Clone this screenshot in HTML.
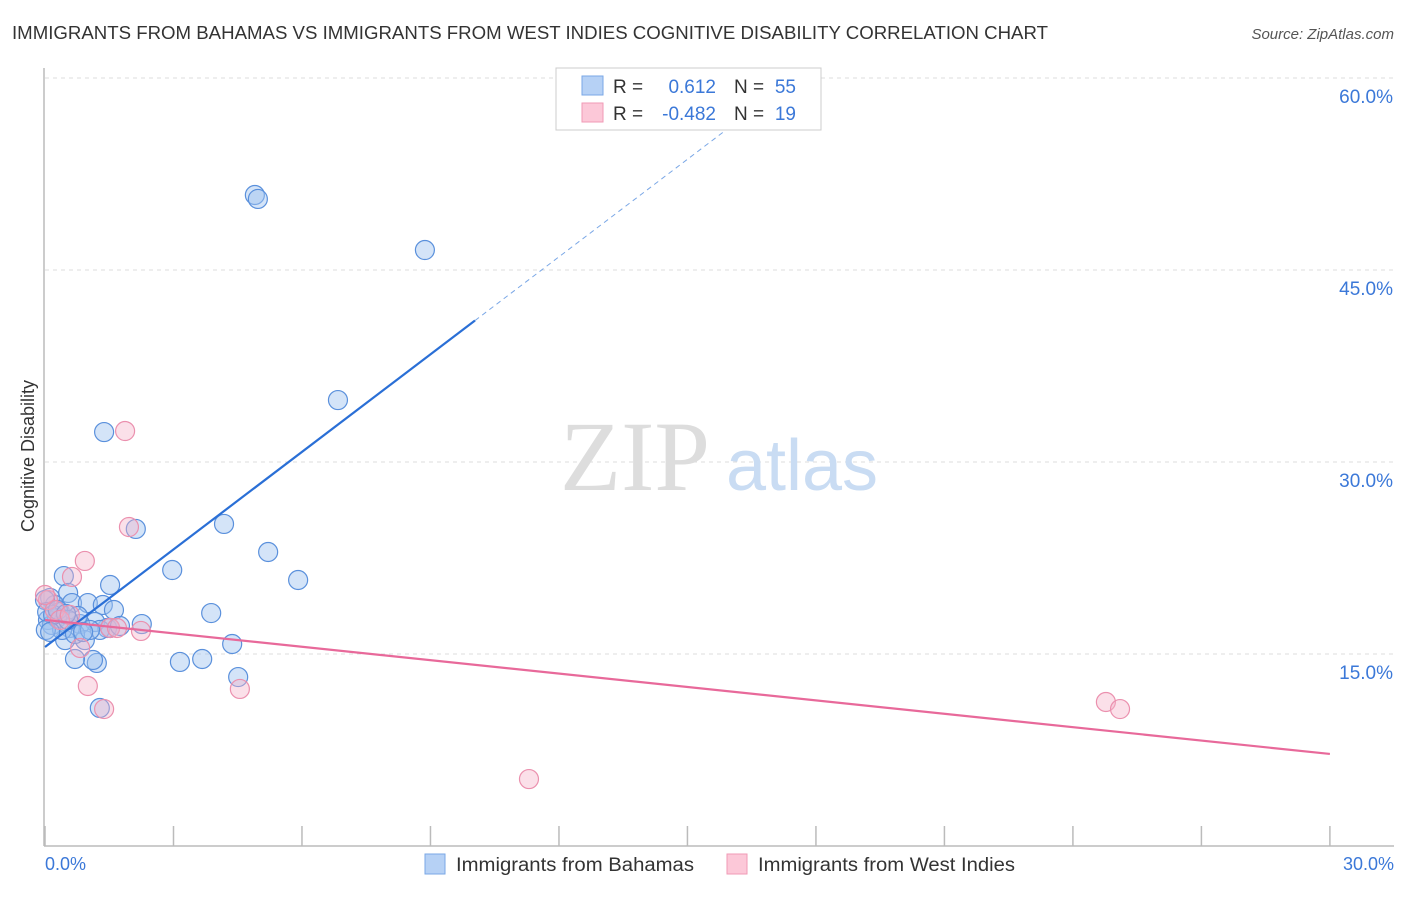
<!DOCTYPE html>
<html><head><meta charset="utf-8"><style>
body{margin:0;background:#fff;font-family:"Liberation Sans",sans-serif;}
</style></head><body>
<svg width="1406" height="892" font-family="Liberation Sans, sans-serif">
<text x="12" y="39" font-size="18" fill="#333" textLength="1036" lengthAdjust="spacingAndGlyphs">IMMIGRANTS FROM BAHAMAS VS IMMIGRANTS FROM WEST INDIES COGNITIVE DISABILITY CORRELATION CHART</text>
<text x="1394" y="39" font-size="15" fill="#555" text-anchor="end" font-style="italic">Source: ZipAtlas.com</text>
<g id="grid"></g>
<text x="635" y="490" font-size="100" fill="#ddd" style="font-family:'Liberation Serif',serif" text-anchor="middle">ZIP</text>
<text x="802" y="490" font-size="72" fill="#c9dcf3" text-anchor="middle">atlas</text>
<line x1="44" y1="68" x2="44" y2="846" stroke="#bbb" stroke-width="1.5"/>
<line x1="44" y1="846" x2="1394" y2="846" stroke="#bbb" stroke-width="1.5"/>
<g id="ticks"></g>
<text x="34" y="456" font-size="18" fill="#333" text-anchor="middle" transform="rotate(-90 34 456)">Cognitive Disability</text>
<text x="45" y="870" font-size="18" fill="#3b78d8">0.0%</text>
<text x="1394" y="870" font-size="18" fill="#3b78d8" text-anchor="end">30.0%</text>
<g id="pts"></g>
<g id="lines"></g>
<g>
<rect x="556" y="68" width="265" height="62" fill="#fff" stroke="#ccc"/>
<rect x="582" y="76" width="21" height="19" fill="#b6d1f5" stroke="#7aa7e6"/>
<rect x="582" y="103" width="21" height="19" fill="#fcc8d8" stroke="#f09ab6"/>
<text x="613" y="93" font-size="19" fill="#333">R =</text>
<text x="716" y="93" font-size="19" fill="#3b78d8" text-anchor="end">0.612</text>
<text x="734" y="93" font-size="19" fill="#333">N =</text>
<text x="796" y="93" font-size="19" fill="#3b78d8" text-anchor="end">55</text>
<text x="613" y="120" font-size="19" fill="#333">R =</text>
<text x="716" y="120" font-size="19" fill="#3b78d8" text-anchor="end">-0.482</text>
<text x="734" y="120" font-size="19" fill="#333">N =</text>
<text x="796" y="120" font-size="19" fill="#3b78d8" text-anchor="end">19</text>
</g>
<g>
<rect x="425" y="854" width="20" height="20" fill="#b6d1f5" stroke="#7aa7e6"/>
<text x="456" y="871" font-size="19" fill="#333" textLength="238" lengthAdjust="spacingAndGlyphs">Immigrants from Bahamas</text>
<rect x="727" y="854" width="20" height="20" fill="#fcc8d8" stroke="#f09ab6"/>
<text x="758" y="871" font-size="19" fill="#333" textLength="257" lengthAdjust="spacingAndGlyphs">Immigrants from West Indies</text>
</g>
</svg>
<script>
const yTicks=[15,30,45,60];
const yTickLabels=["15.0%","30.0%","45.0%","60.0%"];
const xTicks=[0,3,6,9,12,15,18,21,24,27,30];
const blueX=[4.90,4.97,8.87,6.84,1.38,2.12,4.18,5.21,2.97,5.91,1.52,0.44,0.54,3.88,4.37,3.15,3.67,4.51,1.28,1.21,1.12,0.70,0.12,0.23,0.35,0.63,1.00,1.35,1.61,2.26,1.45,1.17,0.82,0.58,0.47,0.93,0.07,0.16,0.28,0.40,0.70,1.28,0.77,1.05,0.0,0.05,0.19,0.30,0.54,0.89,1.52,1.75,0.02,0.12,0.49];
const blueY=[50.86,50.55,46.56,34.84,32.34,24.77,25.16,22.97,21.56,20.78,20.39,21.09,19.77,18.20,15.78,14.38,14.61,13.20,10.78,14.30,14.53,14.61,19.38,18.83,18.28,18.98,18.98,18.83,18.44,17.34,17.03,17.50,17.34,17.03,16.09,16.09,17.66,17.27,17.81,16.88,16.56,16.88,17.97,16.88,19.22,18.28,18.05,18.44,17.66,16.72,17.03,17.19,16.88,16.72,18.13];
const pinkX=[1.87,1.96,0.93,0.63,2.24,1.52,1.68,0.82,1.00,1.38,4.55,24.77,25.10,11.30,0.07,0.23,0.35,0.58,0];
const pinkY=[32.42,24.92,22.27,21.02,16.80,17.03,17.03,15.47,12.50,10.70,12.27,11.25,10.70,5.23,19.22,18.44,17.66,18.05,19.61];
const blueTrend=[15.55,2.54];
const pinkTrend=[17.66,-0.349];
const NS='http://www.w3.org/2000/svg';
const sx=v=>45+v*42.83, sy=v=>846-v*12.8;
function mk(t,a,p){const e=document.createElementNS(NS,t);for(const k in a)e.setAttribute(k,a[k]);document.getElementById(p).appendChild(e);return e;}
yTicks.forEach((t,i)=>{
 const l=mk('line',{x1:45,x2:1394,y1:sy(t),y2:sy(t),stroke:'#ddd','stroke-dasharray':'4,4'},'grid');
 
 
 const tx=mk('text',{x:1393,y:sy(t)+25,'font-size':19,fill:'#3b78d8','text-anchor':'end'},'grid');
 tx.textContent=yTickLabels[i];
 
 
});
xTicks.forEach(t=>{
 const l=mk('line',{x1:sx(t),x2:sx(t),y1:826,y2:846,stroke:'#bbb','stroke-width':1.5},'ticks');
 
 
});
blueX.forEach((x,i)=>{
 const c=mk('circle',{cx:sx(x),cy:sy(blueY[i]),r:9.5,fill:'rgba(160,196,240,0.45)',stroke:'#5a90dc','stroke-width':1.2},'pts');
 
 
});
pinkX.forEach((x,i)=>{
 const c=mk('circle',{cx:sx(x),cy:sy(pinkY[i]),r:9.5,fill:'rgba(246,178,200,0.4)',stroke:'#eb90ae','stroke-width':1.2},'pts');
 
 
});
const bt=x=>blueTrend[0]+blueTrend[1]*x, pt=x=>pinkTrend[0]+pinkTrend[1]*x;
let l1=mk('line',{x1:sx(0),y1:sy(bt(0)),x2:sx(10.04),y2:sy(bt(10.04)),stroke:'#2a6fd6','stroke-width':2.2},'lines');


let l2=mk('line',{x1:sx(10.04),y1:sy(bt(10.04)),x2:sx(16.9),y2:sy(bt(16.9)),stroke:'#7aa7e6','stroke-width':1,'stroke-dasharray':'5,4'},'lines');


let l3=mk('line',{x1:sx(0),y1:sy(pt(0)),x2:sx(30),y2:sy(pt(30)),stroke:'#e8699a','stroke-width':2.2},'lines');


</script>
</body></html>
